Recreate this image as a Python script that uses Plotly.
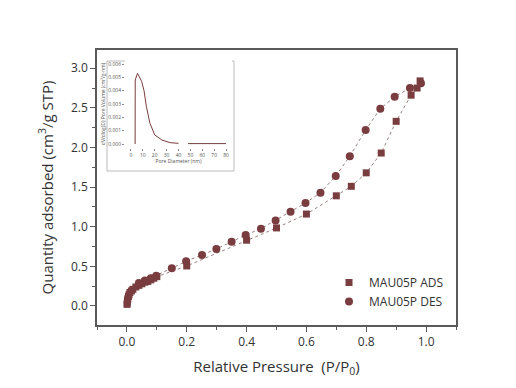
import plotly.graph_objects as go

# Adsorption branch
ads_x = [0.0005, 0.001, 0.002, 0.003, 0.005, 0.007, 0.01, 0.015, 0.02, 0.03, 0.04, 0.05,
         0.06, 0.07, 0.08, 0.09, 0.1, 0.2, 0.4, 0.5, 0.6, 0.7, 0.75, 0.8, 0.85, 0.9,
         0.95, 0.97, 0.98]
ads_y = [0.02, 0.04, 0.07, 0.09, 0.12, 0.14, 0.17, 0.19, 0.21, 0.24, 0.26, 0.28,
         0.30, 0.31, 0.33, 0.35, 0.37, 0.505, 0.83, 0.985, 1.16, 1.39, 1.51, 1.68, 1.93, 2.33,
         2.66, 2.75, 2.84]

# Desorption branch
des_x = [0.983, 0.946, 0.895, 0.847, 0.798, 0.745, 0.698, 0.647, 0.597, 0.547, 0.497,
         0.448, 0.397, 0.35, 0.299, 0.251, 0.198, 0.15, 0.098, 0.08, 0.06, 0.04]
des_y = [2.81, 2.75, 2.64, 2.49, 2.22, 1.89, 1.64, 1.43, 1.30, 1.19, 1.08,
         0.976, 0.896, 0.81, 0.72, 0.644, 0.564, 0.476, 0.383, 0.35, 0.32, 0.29]

# Inset: pore size distribution
psd_x = [3.5, 3.6, 5.5, 7, 9, 11, 13, 16, 20, 26, 33, 40, None, 48, 80]
psd_y = [0.0, 0.0048, 0.0053, 0.0050, 0.0047, 0.0040, 0.0028, 0.00155, 0.00068,
         0.0003, 0.0001, 0.00005, None, 0.00003, 0.00003]

MARK = "#7a3d3f"
LINE = "#9a8282"
TXT = "#333333"
AX = "#5a5a5a"
FONT = "Open Sans"

fig = go.Figure()
# connecting dotted lines (no legend)
fig.add_trace(go.Scatter(x=ads_x, y=ads_y, mode="lines", showlegend=False,
                         line=dict(color=LINE, width=1, dash="dot")))
fig.add_trace(go.Scatter(x=des_x, y=des_y, mode="lines", showlegend=False,
                         line=dict(color=LINE, width=1, dash="dot")))
# markers
fig.add_trace(go.Scatter(x=ads_x, y=ads_y, mode="markers", name="MAU05P ADS",
                         marker=dict(symbol="square", size=7, color=MARK)))
fig.add_trace(go.Scatter(x=des_x, y=des_y, mode="markers", name="MAU05P DES",
                         marker=dict(symbol="circle", size=8, color=MARK)))
fig.add_trace(go.Scatter(x=psd_x, y=psd_y, mode="lines", showlegend=False,
                         xaxis="x2", yaxis="y2", connectgaps=False,
                         line=dict(color="#7a3d3f", width=1)))

W, H = 516, 388
L, R, T, B = 97, 60, 50, 63
pw, ph = W - L - R, H - T - B

def px(xp):
    return (xp - L) / pw

def py(yp):
    return (H - B - yp) / ph

fig.update_layout(
    width=W, height=H,
    margin=dict(l=L, r=R, t=T, b=B),
    paper_bgcolor="white", plot_bgcolor="white",
    font=dict(family=FONT, size=12, color=TXT),
    showlegend=True,
    legend=dict(x=px(329), y=py(268), xanchor="left", yanchor="top",
                bgcolor="rgba(0,0,0,0)", font=dict(size=12, color=TXT),
                tracegroupgap=0, itemwidth=30),
    xaxis=dict(range=[-0.1, 1.1], tick0=0, dtick=0.2, tickformat=".1f",
               showline=True, mirror=True, linecolor=AX, linewidth=1.5,
               ticks="outside", ticklen=5, tickcolor=AX, showgrid=False, zeroline=False,
               minor=dict(dtick=0.1, tick0=0, ticks="outside", ticklen=3, tickcolor=AX),
               title=dict(text="Relative Pressure  (P/P<sub>0</sub>)", font=dict(size=15), standoff=12),
               tickfont=dict(size=12)),
    yaxis=dict(range=[-0.24, 3.23], tick0=0, dtick=0.5, tickformat=".1f",
               showline=True, mirror=True, linecolor=AX, linewidth=1.5,
               ticks="outside", ticklen=5, tickcolor=AX, showgrid=False, zeroline=False,
               minor=dict(dtick=0.25, tick0=0, ticks="outside", ticklen=3, tickcolor=AX),
               title=dict(text="Quantity adsorbed (cm<sup>3</sup>/g STP)", font=dict(size=15), standoff=14),
               tickfont=dict(size=12)),
    xaxis2=dict(domain=[px(125), px(232)], anchor="y2", range=[-5, 85], dtick=10, tick0=0,
                showline=False, showgrid=False, zeroline=False, ticks="outside", ticklen=2,
                tickcolor="#888", tickfont=dict(size=5, color="#555"),
                title=dict(text="Pore Diameter (nm)", font=dict(size=5, color="#555"), standoff=2)),
    yaxis2=dict(domain=[py(148), py(60)], anchor="x2", range=[-0.0003, 0.0063], dtick=0.001,
                tickformat=".3f", showline=False, showgrid=False, zeroline=False,
                ticks="outside", ticklen=2, tickcolor="#888", tickfont=dict(size=5, color="#555"),
                title=dict(text="dV/dlog(D) Pore Volume (cm³/g·nm)", font=dict(size=5, color="#555"),
                           standoff=2)),
    shapes=[dict(type="rect", xref="paper", yref="paper",
                 x0=px(107), x1=px(234), y0=py(171), y1=py(61),
                 line=dict(color="#bbbbbb", width=1), layer="below")],
)

fig.write_html("out.html")
